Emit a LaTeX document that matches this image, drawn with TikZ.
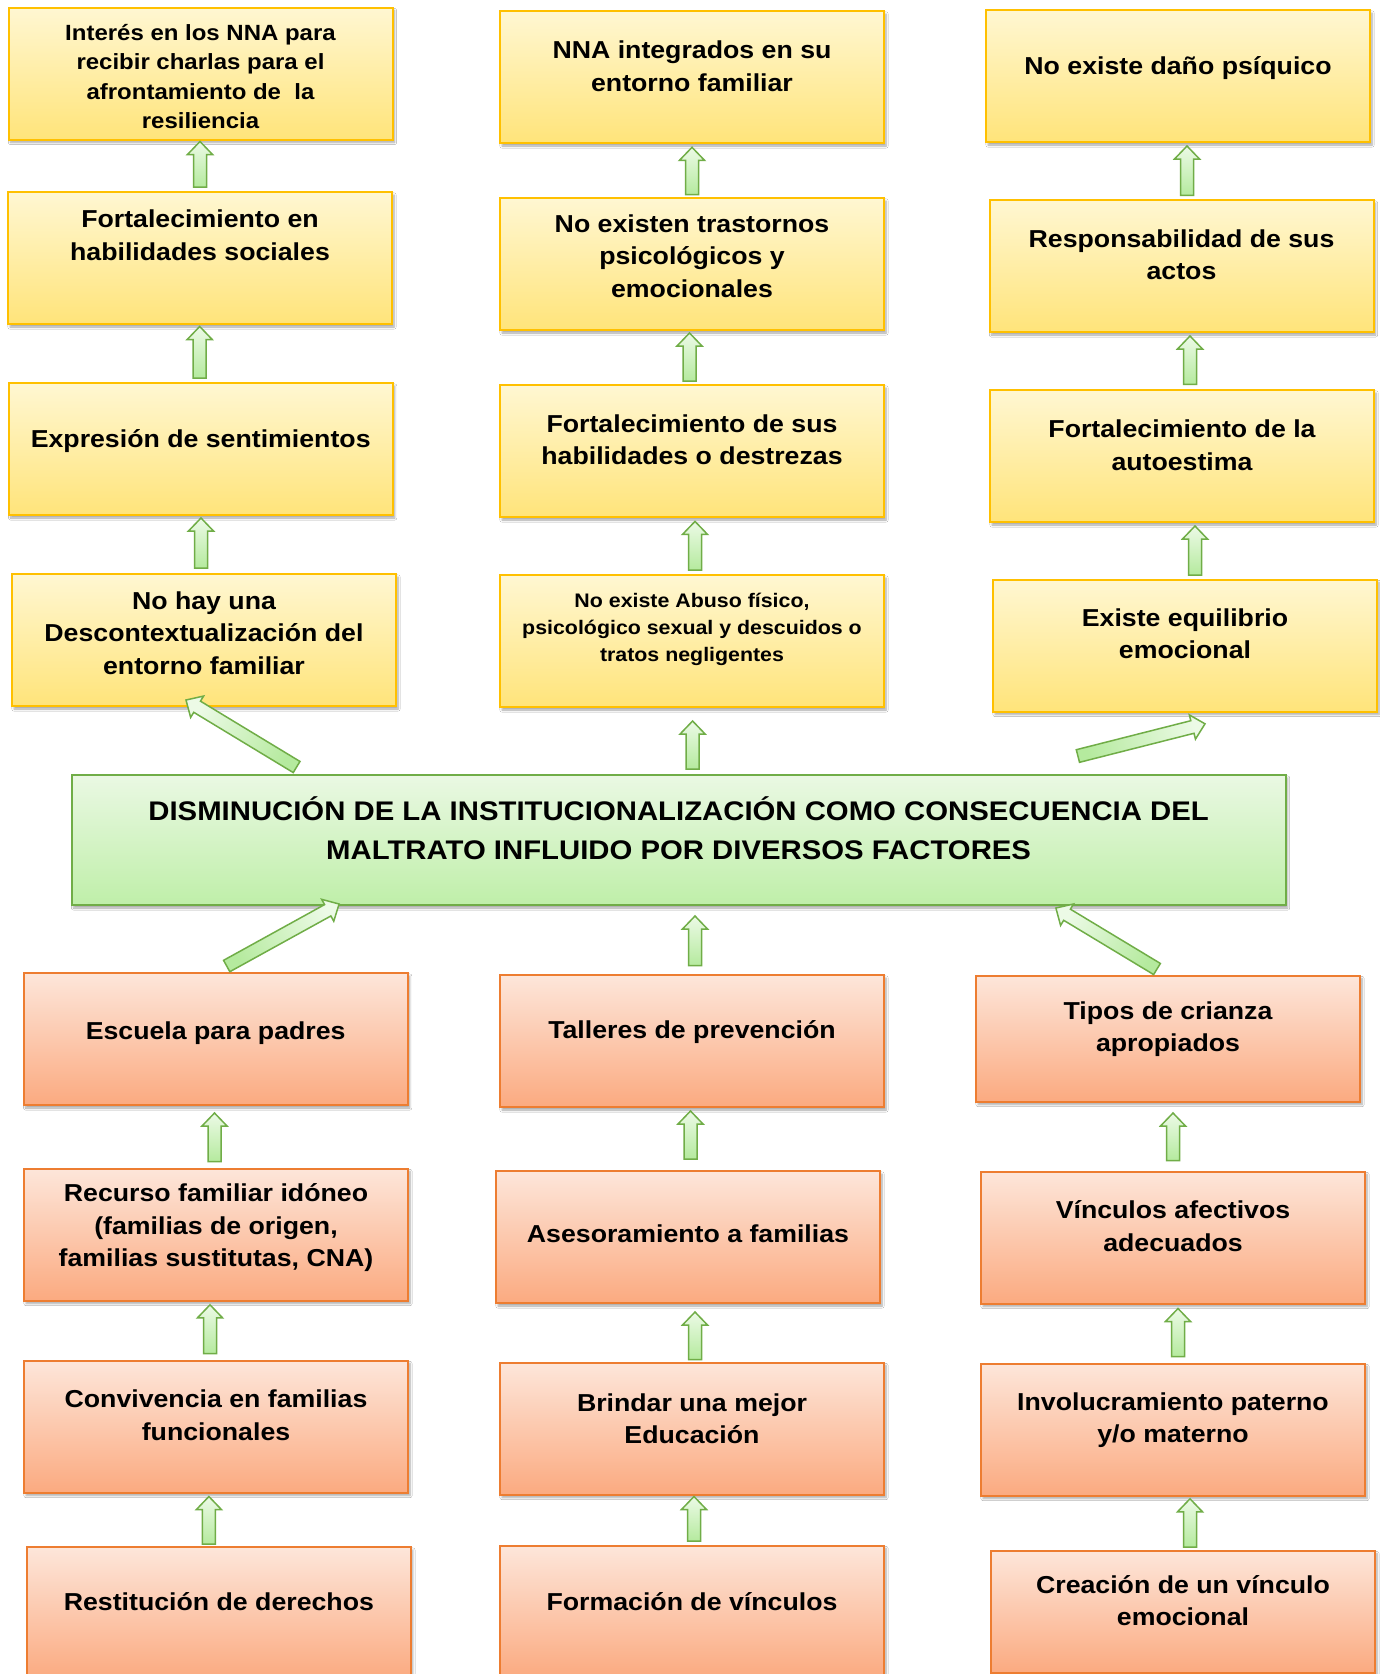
\documentclass[tikz,border=0pt]{standalone}
\usepackage{fontspec}
\setmainfont{Liberation Sans}[FakeStretch=1.09]
\usetikzlibrary{calc,shadows.blur}
\definecolor{ytop}{HTML}{FFF7D2}
\definecolor{ybot}{HTML}{FFE47A}
\definecolor{ybrd}{HTML}{FFC000}
\definecolor{otop}{HTML}{FDE6DA}
\definecolor{obot}{HTML}{FBAA80}
\definecolor{obrd}{HTML}{ED7D31}
\definecolor{gtop}{HTML}{EAF8E3}
\definecolor{gbot}{HTML}{BFEFA9}
\definecolor{gbrd}{HTML}{70AD47}
\definecolor{atop}{HTML}{ECFAE6}
\definecolor{abot}{HTML}{B5EA9E}
\tikzset{
  boxbase/.style={rectangle, inner sep=0pt, line width=2pt, minimum width=384pt, minimum height=132pt,
    blur shadow={shadow xshift=2pt, shadow yshift=-3pt, shadow blur steps=6, shadow opacity=35}},
  ybox/.style={boxbase, draw=ybrd, top color=ytop, bottom color=ybot},
  obox/.style={boxbase, draw=obrd, top color=otop, bottom color=obot},
  gbox/.style={boxbase, draw=gbrd, top color=gtop, bottom color=gbot},
  txt/.style={align=center, inner sep=0pt, font=\bfseries\fontsize{24.5}{32.5}\selectfont},
  arr/.style={draw=gbrd, line width=1.5pt, line join=miter, top color=atop, bottom color=abot},
}
% block arrow: [shading angle]{tail}{tip}
\newcommand\blk[3][0]{%
  \coordinate (bkT) at (#2);
  \coordinate (bkP) at (#3);
  \coordinate (bkH) at ($(bkP)!13pt!(bkT)$);
  \path[arr, shading angle=#1] ($(bkT)!6.5pt!90:(bkP)$) -- ($(bkH)!6.5pt!90:(bkP)$)
    -- ($(bkH)!12.5pt!90:(bkP)$) -- (bkP) -- ($(bkH)!12.5pt!-90:(bkP)$)
    -- ($(bkH)!6.5pt!-90:(bkP)$) -- ($(bkT)!6.5pt!-90:(bkP)$) -- cycle;}
% vertical arrow: {lower}{upper}{dx}{tailgap}{tipgap}
\newcommand\varr[5]{%
  \coordinate (vaX) at ($(#1.north)+(#3,0)$);
  \coordinate (vaY) at ($(#2.south)+(0,#5)$);
  \blk{$(vaX)+(0,-#4)$}{vaX |- vaY}}
\begin{document}
\begin{tikzpicture}[x=1pt,y=-1pt]
\fill[white] (0,0) rectangle (1380,1674);
\useasboundingbox (0,0) rectangle (1380,1674);
% top boxes
\node[ybox] (L1) at (200.5,73.5) {};
\node[ybox] (L2) at (200,258) {};
\node[ybox] (L3) at (200.7,449) {};
\node[ybox] (L4) at (204,640) {};
\node[ybox] (M1) at (692,77) {};
\node[ybox] (M2) at (692,264) {};
\node[ybox] (M3) at (692,451) {};
\node[ybox] (M4) at (692,641) {};
\node[ybox] (R1) at (1178,76) {};
\node[ybox] (R2) at (1181.5,266) {};
\node[ybox] (R3) at (1182,456) {};
\node[ybox] (R4) at (1185,645.5) {};
% centre
\node[gbox, minimum width=1214pt, minimum height=130pt] (C) at (678.6,840) {};
% bottom boxes
\node[obox] (L5) at (215.7,1039) {};
\node[obox] (M5) at (692,1041) {};
\node[obox, minimum height=126pt] (R5) at (1168,1038.5) {};
\node[obox] (L6) at (216,1234.5) {};
\node[obox] (M6) at (688,1237) {};
\node[obox] (R6) at (1173,1237.5) {};
\node[obox] (L7) at (216,1426.5) {};
\node[obox] (M7) at (692,1428.5) {};
\node[obox] (R7) at (1173,1429.5) {};
\node[obox] (L8) at (218.9,1613) {};
\node[obox] (M8) at (692,1611.5) {};
\node[obox, minimum height=122pt] (R8) at (1183,1611.7) {};
% texts
\node[txt, font=\bfseries\fontsize{22}{29.5}\selectfont] (tL1) at (200.5,76.5) {Interés en los NNA para\\recibir charlas para el\\afrontamiento de\ \ la\\resiliencia};
\node[txt] (tL2) at (200,235.3) {Fortalecimiento en\\habilidades sociales};
\node[txt] (tL3) at (200.7,441) {Expresión de sentimientos};
\node[txt] (tL4) at (204,633) {No hay una\\Descontextualización del\\entorno familiar};
\node[txt] (tM1) at (692,66) {NNA integrados en su\\entorno familiar};
\node[txt] (tM2) at (692,256) {No existen trastornos\\psicológicos y\\emocionales};
\node[txt] (tM3) at (692,439.7) {Fortalecimiento de sus\\habilidades o destrezas};
\node[txt, font=\bfseries\fontsize{19.6}{26.7}\selectfont] (tM4) at (692,629.5) {No existe Abuso físico,\\psicológico sexual y descuidos o\\tratos negligentes};
\node[txt] (tR1) at (1178,68) {No existe daño psíquico};
\node[txt] (tR2) at (1181.5,254.5) {Responsabilidad de sus\\actos};
\node[txt] (tR3) at (1182,445) {Fortalecimiento de la\\autoestima};
\node[txt] (tR4) at (1185,633.5) {Existe equilibrio\\emocional};
\node[txt, font=\bfseries\fontsize{26.9}{38.4}\selectfont] (tC) at (678.6,828) {DISMINUCIÓN DE LA INSTITUCIONALIZACIÓN COMO CONSECUENCIA DEL\\MALTRATO INFLUIDO POR DIVERSOS FACTORES};
\node[txt] (tL5) at (215.7,1033) {Escuela para padres};
\node[txt] (tM5) at (692,1032) {Talleres de prevención};
\node[txt] (tR5) at (1168,1029) {Tipos de crianza\\apropiados};
\node[txt] (tL6) at (216,1228) {Recurso familiar idóneo\\(familias de origen,\\familias sustitutas, CNA)};
\node[txt] (tM6) at (688,1234) {Asesoramiento a familias};
\node[txt] (tR6) at (1173,1226.3) {Vínculos afectivos\\adecuados};
\node[txt] (tL7) at (216,1415) {Convivencia en familias\\funcionales};
\node[txt] (tM7) at (692,1418.5) {Brindar una mejor\\Educación};
\node[txt] (tR7) at (1173,1420) {Involucramiento paterno\\y/o materno};
\node[txt] (tL8) at (218.9,1602) {Restitución de derechos};
\node[txt] (tM8) at (692,1602) {Formación de vínculos};
\node[txt] (tR8) at (1183,1600.5) {Creación de un vínculo\\emocional};
% vertical arrows
\varr{L2}{L1}{0}{4}{1}
\varr{L3}{L2}{-1}{4}{1.5}
\varr{L4}{L3}{-3}{5}{2}
\varr{M2}{M1}{0}{2.5}{3.3}
\varr{M3}{M2}{-2.5}{3}{2}
\varr{M4}{M3}{3}{4}{3.4}
\varr{C}{M4}{14}{5}{13}
\varr{R2}{R1}{5.5}{3.6}{3}
\varr{R3}{R2}{8}{4.6}{3}
\varr{R4}{R3}{10}{3.5}{3}
\varr{M5}{C}{3}{8.5}{10}
\varr{L6}{L5}{-1.5}{6}{7}
\varr{L7}{L6}{-6}{6}{3.3}
\varr{L8}{L7}{-10}{2}{3}
\varr{M6}{M5}{2.5}{11}{3}
\varr{M7}{M6}{3}{2}{8}
\varr{M8}{M7}{2}{3.5}{1}
\varr{R6}{R5}{0}{10}{10.5}
\varr{R7}{R6}{5}{6}{4}
\varr{R8}{R7}{7}{2.7}{2.3}
% diagonal arrows
\blk[58.5]{$(C.north west)+(226,-7)$}{$(L4.south)+(-18,-7)$}
\blk[-60.5]{$(L5.north)+(11,-6)$}{$(C.south west)+(268.5,-2)$}
\blk[-75]{$(C.north east)+(-208.7,-18)$}{$(R4.south)+(20,11.3)$}
\blk[58.3]{$(R5.north)+(-11,-5.5)$}{$(C.south east)+(-230.7,2)$}
\end{tikzpicture}
\end{document}
